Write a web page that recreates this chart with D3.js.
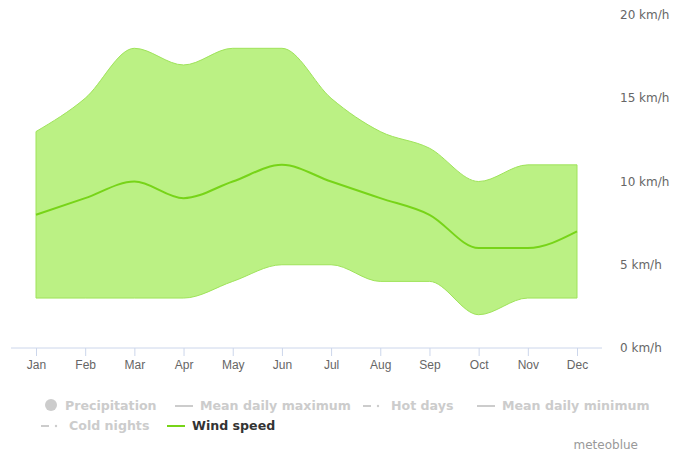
<!DOCTYPE html>
<html>
<head>
<meta charset="utf-8">
<script src="https://cdn.jsdelivr.net/npm/d3@7"></script>
<style>
  body { margin: 0; background: #fff; }
  svg { font-family: "Lucida Grande", "DejaVu Sans", sans-serif; }
</style>
</head>
<body>
<svg id="chart" width="673" height="454"></svg>
<script>
// monthly wind speed, km/h
var months = ["Jan","Feb","Mar","Apr","May","Jun","Jul","Aug","Sep","Oct","Nov","Dec"];
var wind_max  = [13, 15, 18, 17, 18, 18, 15, 13, 12, 10, 11, 11];
var wind_mean = [8, 9, 10, 9, 10, 11, 10, 9, 8, 6, 6, 7];
var wind_min  = [3, 3, 3, 3, 4, 5, 5, 4, 4, 2, 3, 3];
var y_ticks = [0, 5, 10, 15, 20];

var svg = d3.select("#chart");

var x = d3.scalePoint().domain(months).range([36, 577]);
var y = d3.scaleLinear().domain([0, 20]).range([348, 15]);

var rows = months.map(function(m, i){
  return {month: m, max: wind_max[i], mean: wind_mean[i], min: wind_min[i]};
});

// y labels on the right
svg.append("g").selectAll("text").data(y_ticks).enter().append("text")
  .attr("x", 620).attr("y", function(d){ return y(d) + 4; })
  .attr("font-size", 12).attr("fill", "#666")
  .text(function(d){ return d + " km/h"; });

// range band
var area = d3.area()
  .x(function(d){ return x(d.month); })
  .y0(function(d){ return y(d.min); })
  .y1(function(d){ return y(d.max); })
  .curve(d3.curveMonotoneX);
svg.append("path").datum(rows).attr("d", area)
  .attr("fill", "#bbf184").attr("stroke", "#9fe35a").attr("stroke-width", 1);

// mean line
var line = d3.line()
  .x(function(d){ return x(d.month); })
  .y(function(d){ return y(d.mean); })
  .curve(d3.curveMonotoneX);
svg.append("path").datum(rows).attr("d", line)
  .attr("fill", "none").attr("stroke", "#77d418").attr("stroke-width", 2);

// x axis
var xAxis = d3.axisBottom(x).tickSize(8).tickPadding(4);
var gx = svg.append("g").attr("transform", "translate(0,348)").call(xAxis);
gx.select(".domain").remove();
gx.append("line").attr("x1", 11).attr("x2", 602).attr("y1", 0).attr("y2", 0)
  .attr("stroke", "#ccd6eb");
gx.selectAll(".tick line").attr("stroke", "#ccd6eb");
gx.selectAll(".tick text").attr("fill", "#666").attr("font-size", 12)
  .attr("font-family", "inherit");

// legend
var legend = [
  {label: "Precipitation", kind: "dot", x: 51, y: 406},
  {label: "Mean daily maximum", kind: "line", x: 175, y: 406},
  {label: "Hot days", kind: "dashdot", x: 363, y: 406},
  {label: "Mean daily minimum", kind: "line", x: 477, y: 406},
  {label: "Cold nights", kind: "dashdot", x: 41, y: 426},
  {label: "Wind speed", kind: "line", x: 167, y: 426, active: true}
];
var lg = svg.append("g").attr("font-size", 12.6).attr("font-weight", "bold");
legend.forEach(function(d){
  var c = d.active ? "#77d418" : "#cccccc";
  var g = lg.append("g");
  if(d.kind == "dot"){
    g.append("circle").attr("cx", d.x).attr("cy", d.y - 1).attr("r", 6).attr("fill", c);
    g.append("text").attr("x", d.x + 14).attr("y", d.y + 4)
      .attr("fill", "#cccccc").text(d.label);
  }else{
    if(d.kind == "line"){
      g.append("line").attr("x1", d.x).attr("x2", d.x + 18).attr("y1", d.y).attr("y2", d.y)
        .attr("stroke", c).attr("stroke-width", 2);
    }else{
      g.append("line").attr("x1", d.x).attr("x2", d.x + 8).attr("y1", d.y).attr("y2", d.y)
        .attr("stroke", c).attr("stroke-width", 2);
      g.append("circle").attr("cx", d.x + 15).attr("cy", d.y).attr("r", 1.2).attr("fill", c);
    }
    g.append("text").attr("x", d.x + (d.kind == "line" ? 25 : 28)).attr("y", d.y + 4)
      .attr("fill", d.active ? "#333" : "#cccccc").text(d.label);
  }
});

svg.append("text").attr("x", 638).attr("y", 449).attr("text-anchor", "end")
  .attr("font-size", 12).attr("fill", "#999").text("meteoblue");
</script>
</body>
</html>
